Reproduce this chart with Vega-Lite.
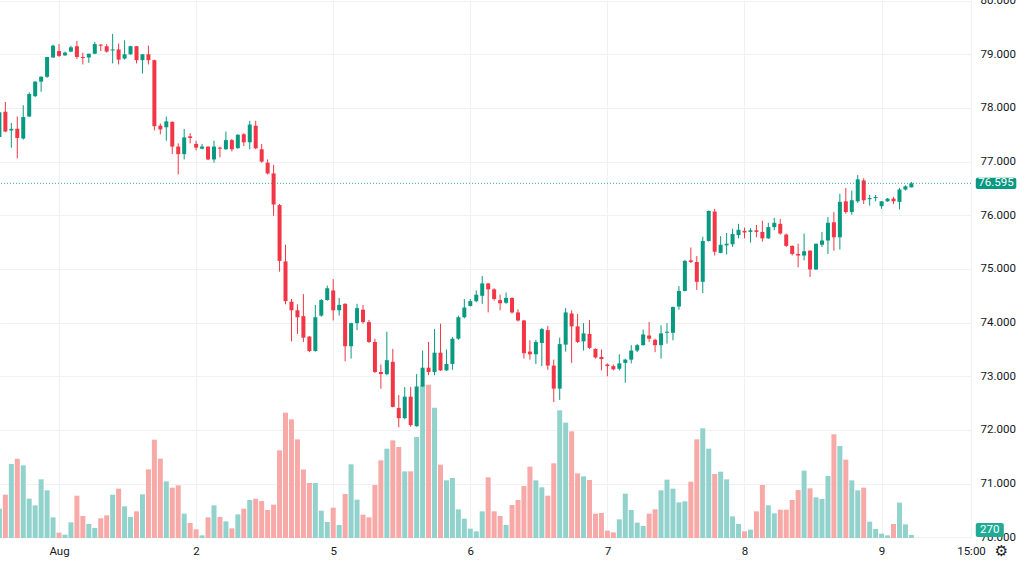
{
  "$schema": "https://vega.github.io/schema/vega-lite/v6.json",
  "width": 971,
  "height": 538,
  "autosize": {"type": "none"},
  "padding": {"left": 0, "top": 0, "right": 53, "bottom": 23},
  "background": "white",
  "config": {
    "view": {"stroke": null},
    "axis": {"labelFont": "Roboto", "labelFontSize": 11.5, "labelColor": "#131722", "gridColor": "#eff1f4", "domain": false, "ticks": false, "title": null, "zindex": 0}
  },
  "datasets": {
    "bars": [
      {"k": -10, "o": 77.46, "h": 77.95, "l": 77.45, "c": 77.92, "v": 2640},
      {"k": -9, "o": 77.93, "h": 78.11, "l": 77.55, "c": 77.56, "v": 3900},
      {"k": -8, "o": 77.58, "h": 77.72, "l": 77.26, "c": 77.61, "v": 6660},
      {"k": -7, "o": 77.61, "h": 77.84, "l": 77.06, "c": 77.44, "v": 7140},
      {"k": -6, "o": 77.43, "h": 78.05, "l": 77.41, "c": 77.83, "v": 6540},
      {"k": -5, "o": 77.84, "h": 78.29, "l": 77.83, "c": 78.26, "v": 3540},
      {"k": -4, "o": 78.22, "h": 78.5, "l": 78.2, "c": 78.49, "v": 2940},
      {"k": -3, "o": 78.49, "h": 78.59, "l": 78.3, "c": 78.58, "v": 5280},
      {"k": -2, "o": 78.58, "h": 78.95, "l": 78.56, "c": 78.95, "v": 4290},
      {"k": -1, "o": 78.94, "h": 79.18, "l": 78.93, "c": 79.16, "v": 1860},
      {"k": 0, "o": 79.06, "h": 79.19, "l": 78.95, "c": 78.97, "v": 480},
      {"k": 1, "o": 78.98, "h": 79.05, "l": 78.97, "c": 79.03, "v": 300},
      {"k": 2, "o": 79.05, "h": 79.16, "l": 79.04, "c": 79.13, "v": 1410},
      {"k": 3, "o": 79.15, "h": 79.25, "l": 78.91, "c": 78.95, "v": 3810},
      {"k": 4, "o": 78.95, "h": 79.03, "l": 78.81, "c": 78.93, "v": 1980},
      {"k": 5, "o": 78.94, "h": 79.01, "l": 78.84, "c": 79.01, "v": 1260},
      {"k": 6, "o": 79.01, "h": 79.23, "l": 79.0, "c": 79.19, "v": 900},
      {"k": 7, "o": 79.18, "h": 79.19, "l": 79.06, "c": 79.16, "v": 1770},
      {"k": 8, "o": 79.15, "h": 79.19, "l": 79.03, "c": 79.05, "v": 2040},
      {"k": 9, "o": 79.07, "h": 79.38, "l": 78.83, "c": 79.09, "v": 3900},
      {"k": 10, "o": 79.09, "h": 79.2, "l": 78.81, "c": 78.9, "v": 4440},
      {"k": 11, "o": 78.92, "h": 79.26, "l": 78.9, "c": 79.0, "v": 2850},
      {"k": 12, "o": 79.0, "h": 79.16, "l": 78.99, "c": 79.15, "v": 1890},
      {"k": 13, "o": 79.15, "h": 79.15, "l": 78.83, "c": 78.89, "v": 2400},
      {"k": 14, "o": 78.89, "h": 79.0, "l": 78.64, "c": 79.0, "v": 3930},
      {"k": 15, "o": 79.0, "h": 79.16, "l": 78.81, "c": 78.89, "v": 6180},
      {"k": 16, "o": 78.89, "h": 78.9, "l": 77.58, "c": 77.66, "v": 8850},
      {"k": 17, "o": 77.67, "h": 77.71, "l": 77.51, "c": 77.6, "v": 7140},
      {"k": 18, "o": 77.64, "h": 77.84, "l": 77.39, "c": 77.75, "v": 5100},
      {"k": 19, "o": 77.74, "h": 77.75, "l": 77.14, "c": 77.28, "v": 4530},
      {"k": 20, "o": 77.28, "h": 77.34, "l": 76.76, "c": 77.14, "v": 4740},
      {"k": 21, "o": 77.14, "h": 77.61, "l": 77.04, "c": 77.45, "v": 2190},
      {"k": 22, "o": 77.47, "h": 77.53, "l": 77.34, "c": 77.44, "v": 1350},
      {"k": 23, "o": 77.33, "h": 77.39, "l": 77.21, "c": 77.26, "v": 780},
      {"k": 24, "o": 77.24, "h": 77.33, "l": 77.23, "c": 77.28, "v": 240},
      {"k": 25, "o": 77.28, "h": 77.28, "l": 77.03, "c": 77.04, "v": 1860},
      {"k": 26, "o": 77.04, "h": 77.39, "l": 76.98, "c": 77.28, "v": 2940},
      {"k": 27, "o": 77.26, "h": 77.28, "l": 77.08, "c": 77.24, "v": 1890},
      {"k": 28, "o": 77.23, "h": 77.56, "l": 77.22, "c": 77.4, "v": 1500},
      {"k": 29, "o": 77.4, "h": 77.42, "l": 77.19, "c": 77.23, "v": 870},
      {"k": 30, "o": 77.25, "h": 77.51, "l": 77.24, "c": 77.5, "v": 2130},
      {"k": 31, "o": 77.51, "h": 77.53, "l": 77.29, "c": 77.36, "v": 2640},
      {"k": 32, "o": 77.36, "h": 77.76, "l": 77.23, "c": 77.69, "v": 3420},
      {"k": 33, "o": 77.67, "h": 77.76, "l": 77.23, "c": 77.25, "v": 3540},
      {"k": 34, "o": 77.23, "h": 77.33, "l": 76.98, "c": 77.0, "v": 3330},
      {"k": 35, "o": 76.98, "h": 77.04, "l": 76.76, "c": 76.78, "v": 2520},
      {"k": 36, "o": 76.78, "h": 76.94, "l": 75.99, "c": 76.2, "v": 3000},
      {"k": 37, "o": 76.19, "h": 76.21, "l": 74.95, "c": 75.15, "v": 7890},
      {"k": 38, "o": 75.14, "h": 75.45, "l": 74.34, "c": 74.4, "v": 11280},
      {"k": 39, "o": 74.39, "h": 74.44, "l": 73.65, "c": 74.23, "v": 10680},
      {"k": 40, "o": 74.23, "h": 74.34, "l": 73.79, "c": 74.1, "v": 8880},
      {"k": 41, "o": 74.12, "h": 74.53, "l": 73.64, "c": 73.72, "v": 6165},
      {"k": 42, "o": 73.74, "h": 73.75, "l": 73.45, "c": 73.47, "v": 4950},
      {"k": 43, "o": 73.47, "h": 74.33, "l": 73.46, "c": 74.1, "v": 4950},
      {"k": 44, "o": 74.13, "h": 74.44, "l": 74.11, "c": 74.42, "v": 2460},
      {"k": 45, "o": 74.42, "h": 74.69, "l": 74.41, "c": 74.64, "v": 1440},
      {"k": 46, "o": 74.6, "h": 74.81, "l": 74.04, "c": 74.23, "v": 2730},
      {"k": 47, "o": 74.23, "h": 74.46, "l": 74.13, "c": 74.33, "v": 1170},
      {"k": 48, "o": 74.35, "h": 74.36, "l": 73.28, "c": 73.56, "v": 3960},
      {"k": 49, "o": 73.56, "h": 74.0, "l": 73.33, "c": 73.99, "v": 6630},
      {"k": 50, "o": 73.99, "h": 74.35, "l": 73.86, "c": 74.27, "v": 3450},
      {"k": 51, "o": 74.24, "h": 74.33, "l": 73.98, "c": 74.01, "v": 2100},
      {"k": 52, "o": 74.01, "h": 74.05, "l": 73.62, "c": 73.64, "v": 1860},
      {"k": 53, "o": 73.64, "h": 73.7, "l": 73.06, "c": 73.08, "v": 4770},
      {"k": 54, "o": 73.08, "h": 73.22, "l": 72.77, "c": 73.04, "v": 6990},
      {"k": 55, "o": 73.04, "h": 73.83, "l": 73.02, "c": 73.3, "v": 8040},
      {"k": 56, "o": 73.27, "h": 73.51, "l": 72.42, "c": 72.43, "v": 8790},
      {"k": 57, "o": 72.41, "h": 72.65, "l": 72.05, "c": 72.22, "v": 8190},
      {"k": 58, "o": 72.22, "h": 72.8, "l": 72.2, "c": 72.62, "v": 6000},
      {"k": 59, "o": 72.62, "h": 72.8, "l": 72.06, "c": 72.09, "v": 6000},
      {"k": 60, "o": 72.07, "h": 73.04, "l": 72.06, "c": 72.81, "v": 9090},
      {"k": 61, "o": 72.81, "h": 73.48, "l": 72.8, "c": 73.16, "v": 13740},
      {"k": 62, "o": 73.16, "h": 73.64, "l": 73.02, "c": 73.08, "v": 13800},
      {"k": 63, "o": 73.08, "h": 73.88, "l": 73.02, "c": 73.44, "v": 11730},
      {"k": 64, "o": 73.44, "h": 73.98, "l": 73.1, "c": 73.11, "v": 6600},
      {"k": 65, "o": 73.11, "h": 73.5, "l": 73.1, "c": 73.23, "v": 5190},
      {"k": 66, "o": 73.23, "h": 73.73, "l": 73.12, "c": 73.7, "v": 5400},
      {"k": 67, "o": 73.7, "h": 74.13, "l": 73.68, "c": 74.1, "v": 2580},
      {"k": 68, "o": 74.1, "h": 74.44, "l": 74.08, "c": 74.28, "v": 1740},
      {"k": 69, "o": 74.31, "h": 74.44, "l": 74.3, "c": 74.4, "v": 840},
      {"k": 70, "o": 74.4, "h": 74.6, "l": 74.38, "c": 74.52, "v": 600},
      {"k": 71, "o": 74.5, "h": 74.87, "l": 74.35, "c": 74.73, "v": 2400},
      {"k": 72, "o": 74.73, "h": 74.74, "l": 74.19, "c": 74.62, "v": 5460},
      {"k": 73, "o": 74.62, "h": 74.64, "l": 74.41, "c": 74.44, "v": 2400},
      {"k": 74, "o": 74.42, "h": 74.52, "l": 74.23, "c": 74.36, "v": 1980},
      {"k": 75, "o": 74.37, "h": 74.56, "l": 74.35, "c": 74.46, "v": 1170},
      {"k": 76, "o": 74.46, "h": 74.47, "l": 74.17, "c": 74.19, "v": 2970},
      {"k": 77, "o": 74.19, "h": 74.25, "l": 74.02, "c": 74.04, "v": 3420},
      {"k": 78, "o": 74.04, "h": 74.05, "l": 73.33, "c": 73.43, "v": 4680},
      {"k": 79, "o": 73.46, "h": 73.67, "l": 73.31, "c": 73.41, "v": 6420},
      {"k": 80, "o": 73.41, "h": 73.68, "l": 73.23, "c": 73.64, "v": 5190},
      {"k": 81, "o": 73.62, "h": 73.9, "l": 73.19, "c": 73.88, "v": 4560},
      {"k": 82, "o": 73.86, "h": 73.94, "l": 73.12, "c": 73.2, "v": 3810},
      {"k": 83, "o": 73.2, "h": 73.31, "l": 72.52, "c": 72.77, "v": 6720},
      {"k": 84, "o": 72.77, "h": 73.72, "l": 72.56, "c": 73.6, "v": 11490},
      {"k": 85, "o": 73.59, "h": 74.27, "l": 73.46, "c": 74.19, "v": 10380},
      {"k": 86, "o": 74.17, "h": 74.23, "l": 73.25, "c": 73.93, "v": 9600},
      {"k": 87, "o": 73.93, "h": 74.16, "l": 73.62, "c": 73.64, "v": 5820},
      {"k": 88, "o": 73.65, "h": 73.99, "l": 73.48, "c": 73.8, "v": 5550},
      {"k": 89, "o": 73.79, "h": 74.05, "l": 73.51, "c": 73.53, "v": 5220},
      {"k": 90, "o": 73.51, "h": 73.52, "l": 73.33, "c": 73.35, "v": 2190},
      {"k": 91, "o": 73.36, "h": 73.5, "l": 73.11, "c": 73.32, "v": 2250},
      {"k": 92, "o": 73.22, "h": 73.24, "l": 73.0, "c": 73.19, "v": 660},
      {"k": 93, "o": 73.19, "h": 73.22, "l": 73.11, "c": 73.13, "v": 510},
      {"k": 94, "o": 73.14, "h": 73.41, "l": 73.11, "c": 73.24, "v": 1680},
      {"k": 95, "o": 73.25, "h": 73.33, "l": 72.88, "c": 73.31, "v": 3990},
      {"k": 96, "o": 73.31, "h": 73.58, "l": 73.24, "c": 73.48, "v": 2520},
      {"k": 97, "o": 73.48, "h": 73.6, "l": 73.45, "c": 73.58, "v": 1380},
      {"k": 98, "o": 73.58, "h": 73.87, "l": 73.57, "c": 73.78, "v": 1080},
      {"k": 99, "o": 73.76, "h": 74.01, "l": 73.64, "c": 73.7, "v": 2190},
      {"k": 100, "o": 73.68, "h": 73.7, "l": 73.45, "c": 73.58, "v": 2580},
      {"k": 101, "o": 73.58, "h": 73.95, "l": 73.33, "c": 73.8, "v": 4290},
      {"k": 102, "o": 73.81, "h": 73.99, "l": 73.61, "c": 73.83, "v": 5250},
      {"k": 103, "o": 73.81, "h": 74.3, "l": 73.67, "c": 74.29, "v": 4440},
      {"k": 104, "o": 74.3, "h": 74.68, "l": 74.24, "c": 74.59, "v": 3210},
      {"k": 105, "o": 74.59, "h": 75.17, "l": 74.58, "c": 75.15, "v": 3300},
      {"k": 106, "o": 75.16, "h": 75.4, "l": 75.11, "c": 75.13, "v": 5070},
      {"k": 107, "o": 75.13, "h": 75.24, "l": 74.61, "c": 74.76, "v": 8880},
      {"k": 108, "o": 74.76, "h": 75.6, "l": 74.55, "c": 75.52, "v": 9870},
      {"k": 109, "o": 75.52, "h": 76.09, "l": 75.51, "c": 76.08, "v": 8040},
      {"k": 110, "o": 76.07, "h": 76.12, "l": 75.25, "c": 75.32, "v": 5760},
      {"k": 111, "o": 75.3, "h": 75.61, "l": 75.29, "c": 75.45, "v": 5970},
      {"k": 112, "o": 75.44, "h": 75.67, "l": 75.27, "c": 75.47, "v": 5280},
      {"k": 113, "o": 75.46, "h": 75.75, "l": 75.41, "c": 75.65, "v": 1950},
      {"k": 114, "o": 75.63, "h": 75.84, "l": 75.57, "c": 75.73, "v": 1260},
      {"k": 115, "o": 75.71, "h": 75.77, "l": 75.57, "c": 75.68, "v": 600},
      {"k": 116, "o": 75.69, "h": 75.76, "l": 75.49, "c": 75.72, "v": 750},
      {"k": 117, "o": 75.72, "h": 75.82, "l": 75.59, "c": 75.69, "v": 2400},
      {"k": 118, "o": 75.69, "h": 75.9, "l": 75.51, "c": 75.57, "v": 4770},
      {"k": 119, "o": 75.57, "h": 75.86, "l": 75.56, "c": 75.78, "v": 2940},
      {"k": 120, "o": 75.78, "h": 75.95, "l": 75.72, "c": 75.86, "v": 2220},
      {"k": 121, "o": 75.84, "h": 75.93, "l": 75.64, "c": 75.66, "v": 2550},
      {"k": 122, "o": 75.64, "h": 75.66, "l": 75.41, "c": 75.43, "v": 2550},
      {"k": 123, "o": 75.43, "h": 75.44, "l": 75.25, "c": 75.28, "v": 3420},
      {"k": 124, "o": 75.28, "h": 75.47, "l": 75.03, "c": 75.25, "v": 4320},
      {"k": 125, "o": 75.25, "h": 75.66, "l": 75.16, "c": 75.33, "v": 6060},
      {"k": 126, "o": 75.34, "h": 75.35, "l": 74.85, "c": 74.99, "v": 4470},
      {"k": 127, "o": 74.99, "h": 75.47, "l": 74.98, "c": 75.47, "v": 3660},
      {"k": 128, "o": 75.45, "h": 75.69, "l": 75.41, "c": 75.53, "v": 3510},
      {"k": 129, "o": 75.53, "h": 75.97, "l": 75.28, "c": 75.86, "v": 5580},
      {"k": 130, "o": 75.87, "h": 76.06, "l": 75.34, "c": 75.59, "v": 9330},
      {"k": 131, "o": 75.59, "h": 76.4, "l": 75.36, "c": 76.25, "v": 8280},
      {"k": 132, "o": 76.26, "h": 76.51, "l": 76.03, "c": 76.06, "v": 7050},
      {"k": 133, "o": 76.06, "h": 76.46, "l": 76.01, "c": 76.28, "v": 5190},
      {"k": 134, "o": 76.26, "h": 76.75, "l": 76.23, "c": 76.67, "v": 4290},
      {"k": 135, "o": 76.65, "h": 76.69, "l": 76.21, "c": 76.28, "v": 4530},
      {"k": 136, "o": 76.3, "h": 76.38, "l": 76.18, "c": 76.32, "v": 1470},
      {"k": 137, "o": 76.32, "h": 76.38, "l": 76.26, "c": 76.34, "v": 810},
      {"k": 138, "o": 76.17, "h": 76.26, "l": 76.12, "c": 76.26, "v": 390},
      {"k": 139, "o": 76.26, "h": 76.32, "l": 76.25, "c": 76.31, "v": 240},
      {"k": 140, "o": 76.31, "h": 76.34, "l": 76.21, "c": 76.26, "v": 1260},
      {"k": 141, "o": 76.25, "h": 76.51, "l": 76.11, "c": 76.48, "v": 3180},
      {"k": 142, "o": 76.48, "h": 76.56, "l": 76.46, "c": 76.54, "v": 1230},
      {"k": 143, "o": 76.52, "h": 76.62, "l": 76.52, "c": 76.595, "v": 270}
    ]
  },
  "layer": [
    {
      "data": {"name": "bars"},
      "mark": {"type": "bar", "width": 5},
      "encoding": {
        "x": {
          "field": "k",
          "type": "quantitative",
          "scale": {"domain": [-9.9, 153], "nice": false, "zero": false, "padding": 0},
          "axis": {
            "values": [0, 23, 46, 69, 92, 115, 138, 153],
            "labelExpr": "datum.value == 0 ? 'Aug' : datum.value == 23 ? '2' : datum.value == 46 ? '5' : datum.value == 69 ? '6' : datum.value == 92 ? '7' : datum.value == 115 ? '8' : datum.value == 138 ? '9' : '15:00'",
            "grid": true,
            "labelPadding": 7,
            "labelFlush": false,
            "labelOverlap": false
          }
        },
        "y": {
          "field": "v",
          "type": "quantitative",
          "scale": {"domain": [0, 48420], "nice": false, "padding": 0},
          "axis": null
        },
        "color": {
          "condition": {"test": "datum.c >= datum.o", "value": "#92d2cc"},
          "value": "#f7a9a7"
        }
      }
    },
    {
      "layer": [
        {
          "data": {"name": "bars"},
          "mark": {"type": "rule", "strokeWidth": 1},
          "encoding": {
            "x": {"field": "k", "type": "quantitative"},
            "y": {
              "field": "l",
              "type": "quantitative",
              "scale": {"domain": [69.987, 80.011], "nice": false, "zero": false, "padding": 0},
              "axis": {
                "orient": "right",
                "values": [70, 70.5, 71, 71.5, 72, 72.5, 73, 73.5, 74, 74.5, 75, 75.5, 76, 76.5, 77, 77.5, 78, 78.5, 79, 79.5, 80],
                "format": ".3f",
                "grid": true,
                "labelAlign": "left",
                "labelPadding": 9,
                "labelFlush": false,
                "labelOverlap": false
              }
            },
            "y2": {"field": "h"},
            "color": {
              "condition": {"test": "datum.c >= datum.o", "value": "#089981"},
              "value": "#f23645"
            }
          }
        },
        {
          "data": {"name": "bars"},
          "mark": {"type": "bar", "width": 4},
          "encoding": {
            "x": {"field": "k", "type": "quantitative"},
            "y": {"field": "o", "type": "quantitative"},
            "y2": {"field": "c"},
            "color": {
              "condition": {"test": "datum.c >= datum.o", "value": "#089981"},
              "value": "#f23645"
            }
          }
        },
        {
          "data": {"values": [{}]},
          "mark": {"type": "rule", "color": "#089981", "strokeWidth": 1, "strokeDash": [1, 2], "opacity": 0.8},
          "encoding": {"y": {"datum": 76.595}}
        },
        {
          "data": {"values": [{}]},
          "mark": {"type": "rect", "color": "#089981", "cornerRadius": 2},
          "encoding": {
            "x": {"datum": 153.8}, "x2": {"datum": 160.6},
            "y": {"datum": 76.49}, "y2": {"datum": 76.70}
          }
        },
        {
          "data": {"values": [{}]},
          "mark": {"type": "text", "color": "white", "font": "Roboto", "fontSize": 11.5, "align": "center", "baseline": "middle"},
          "encoding": {
            "x": {"datum": 157.2},
            "y": {"datum": 76.595},
            "text": {"value": "76.595"}
          }
        },
        {
          "data": {"values": [{}]},
          "mark": {"type": "rect", "color": "#22ab94", "cornerRadius": 2},
          "encoding": {
            "x": {"datum": 153.8}, "x2": {"datum": 158.5},
            "y": {"datum": 70.006}, "y2": {"datum": 70.266}
          }
        },
        {
          "data": {"values": [{}]},
          "mark": {"type": "text", "color": "white", "font": "Roboto", "fontSize": 11.5, "align": "center", "baseline": "middle"},
          "encoding": {
            "x": {"datum": 156.15},
            "y": {"datum": 70.136},
            "text": {"value": "270"}
          }
        },
        {
          "data": {"values": [{}]},
          "mark": {"type": "text", "color": "#131722", "font": "DejaVu Sans", "fontSize": 15, "align": "center", "baseline": "middle"},
          "encoding": {
            "x": {"datum": 158.1},
            "y": {"datum": 69.745},
            "text": {"value": "⚙"}
          }
        }
      ]
    }
  ],
  "resolve": {"scale": {"y": "independent"}}
}
